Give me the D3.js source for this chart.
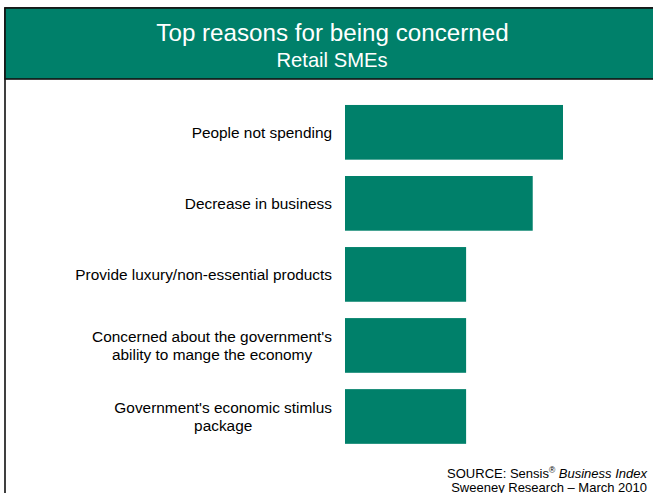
<!DOCTYPE html>
<html>
<head>
<meta charset="utf-8">
<script src="https://cdn.jsdelivr.net/npm/d3@7"></script>
<style>
  html, body { margin: 0; padding: 0; background: #fff; }
  svg { display: block; font-family: "Liberation Sans", Arial, sans-serif; }
</style>
</head>
<body>
<svg id="chart" width="653" height="493"></svg>
<script>
// Share of retail SMEs citing each reason (%)
const reasons = [
  ["People not spending"],
  ["Decrease in business"],
  ["Provide luxury/non-essential products"],
  ["Concerned about the government's", "ability to mange the economy"],
  ["Government's economic stimlus", "package"]
];
const shares = [36, 31, 20, 20, 20];

const titleText = "Top reasons for being concerned";
const subtitleText = "Retail SMEs";
const sourceLine1 = ["SOURCE: Sensis", "®", " Business Index"];
const sourceLine2 = "Sweeney Research \u2013 March 2010";

const green = "#00806a";
const W = 653, H = 493;

const svg = d3.select("#chart");

// Frame and header band
svg.append("rect")
  .attr("x", 5).attr("y", 8)
  .attr("width", W + 10).attr("height", H + 10)
  .attr("fill", "#fff")
  .attr("stroke", "#111").attr("stroke-width", 1.6);

svg.append("rect")
  .attr("x", 5).attr("y", 8)
  .attr("width", W + 10).attr("height", 71)
  .attr("fill", green)
  .attr("stroke", "#111").attr("stroke-width", 1.6);

svg.append("text")
  .attr("x", 332.5).attr("y", 41)
  .attr("text-anchor", "middle")
  .attr("fill", "#fff")
  .attr("font-size", 24.2)
  .text(titleText);

svg.append("text")
  .attr("x", 332).attr("y", 66.5)
  .attr("text-anchor", "middle")
  .attr("fill", "#fff")
  .attr("font-size", 20.2)
  .text(subtitleText);

// Scales
const idx = d3.range(reasons.length);
const y = d3.scaleBand()
  .domain(idx)
  .range([96.8, 452])
  .paddingInner(0.23)
  .paddingOuter(0.115);

const x = d3.scaleLinear()
  .domain([0, 36])
  .range([345, 563]);

// Bars
svg.append("g")
  .selectAll("rect")
  .data(idx)
  .join("rect")
  .attr("x", x(0))
  .attr("y", i => y(i))
  .attr("width", i => x(shares[i]) - x(0))
  .attr("height", y.bandwidth())
  .attr("fill", green);

// Category labels: each block right-aligned to the axis, lines centred within the block
const labelRight = 332;
const lineH = 18;
const labels = svg.append("g")
  .attr("font-size", 15.4)
  .attr("fill", "#000");

idx.forEach(i => {
  const lines = reasons[i];
  const g = labels.append("g");
  const cy = y(i) + y.bandwidth() / 2;
  const texts = lines.map((ln, k) =>
    g.append("text")
      .attr("y", cy + 5.5 + (k - (lines.length - 1) / 2) * lineH)
      .text(ln)
  );
  const maxW = d3.max(texts, t => t.node().getComputedTextLength());
  texts.forEach(t => t.attr("x", labelRight - maxW / 2).attr("text-anchor", "middle"));
});

// Source note
const src = svg.append("text")
  .attr("x", 647).attr("y", 478)
  .attr("text-anchor", "end")
  .attr("font-size", 13)
  .attr("fill", "#000");
src.append("tspan").text(sourceLine1[0]);
src.append("tspan").attr("font-size", 8.5).attr("dy", -5).text(sourceLine1[1]);
src.append("tspan").attr("dy", 5).attr("font-style", "italic").text(sourceLine1[2]);

svg.append("text")
  .attr("x", 647).attr("y", 491.5)
  .attr("text-anchor", "end")
  .attr("font-size", 13)
  .attr("fill", "#000")
  .text(sourceLine2);
</script>
</body>
</html>
